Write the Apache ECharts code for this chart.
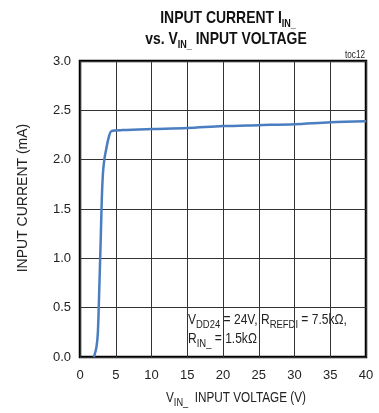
<!DOCTYPE html>
<html><head><meta charset="utf-8">
<script src="https://cdn.jsdelivr.net/npm/echarts@6/dist/echarts.min.js"></script>
<style>html,body{margin:0;padding:0;background:#fff}#c{width:379px;height:413px}</style>
</head><body><div id="c"></div>
<script>
const voltage = [1.95, 2.3, 2.5, 2.7, 2.9, 3.05, 3.2, 3.4, 3.7, 4.0, 4.4, 6, 10, 15, 20, 25, 30, 35, 40];
const current = [0, 0.1, 0.25, 0.7, 1.2, 1.6, 1.85, 2.0, 2.12, 2.22, 2.29, 2.30, 2.31, 2.32, 2.34, 2.35, 2.36, 2.38, 2.39];
const xTicks = [0, 5, 10, 15, 20, 25, 30, 35, 40];
const yTicks = [0, 0.5, 1, 1.5, 2, 2.5, 3];

const F = '"Liberation Sans",Arial,sans-serif';
const mctx = document.createElement('canvas').getContext('2d');
function measure(t, size, weight) { mctx.font = (weight || 'normal') + ' ' + size + 'px ' + F; return mctx.measureText(t).width; }
// parts: [text, isSub]
function composite(cx, my, parts, o) {
  const fm = o.fm, fs = o.fs, w = o.weight || 'normal', sc = o.scale || 0.82, color = o.color || '#222';
  let x = 0; const kids = [];
  parts.forEach(([t, s]) => {
    const size = s ? fs : fm;
    kids.push({type: 'text', x: x, y: s ? o.subDy : 0, style: {text: t, fontSize: size, fontFamily: F, fontWeight: w, fill: color, verticalAlign: 'middle', align: 'left'}});
    x += measure(t, size, w);
  });
  const W = x * sc;
  let gx = cx;
  if (o.align === 'center') gx = cx - W / 2; else if (o.align === 'right') gx = cx - W;
  return {type: 'group', x: gx, y: my, scaleX: sc, scaleY: 1, children: kids, z: 10};
}

const chart = echarts.init(document.getElementById('c'));
chart.setOption({
  animation: false,
  grid: {left: 80, top: 61, right: 13, bottom: 56, show: true, borderColor: '#000', borderWidth: 2.5, backgroundColor: 'transparent'},
  xAxis: {
    type: 'value', min: 0, max: 40, interval: 5,
    axisLine: {show: false}, axisTick: {show: false},
    splitLine: {show: true, lineStyle: {color: '#333', width: 1}},
    axisLabel: {fontFamily: F, fontSize: 13, color: '#222', margin: 12, formatter: v => xTicks.includes(v) ? String(v) : ''},
  },
  yAxis: {
    type: 'value', min: 0, max: 3, interval: 0.5,
    axisLine: {show: false}, axisTick: {show: false},
    splitLine: {show: true, lineStyle: {color: '#333', width: 1}},
    axisLabel: {fontFamily: F, fontSize: 13, color: '#222', margin: 9, formatter: v => yTicks.includes(v) ? v.toFixed(1) : ''},
    name: 'INPUT CURRENT (mA)', nameLocation: 'middle', nameGap: 50, nameRotate: 90,
    nameTextStyle: {fontFamily: F, fontSize: 14, color: '#222', padding: [0, 0, 0, 22]}
  },
  series: [{
    type: 'line', data: voltage.map((v, i) => [v, current[i]]), smooth: 0.3, showSymbol: false,
    lineStyle: {color: '#4a7ec0', width: 2.5}, z: 5
  }],
  graphic: [
    composite(228, 18, [['INPUT CURRENT I', 0], ['IN_', 1]], {fm: 17, fs: 11, subDy: 6, weight: 'bold', align: 'center', color: '#111'}),
    composite(226, 39, [['vs. V', 0], ['IN_', 1], [' INPUT VOLTAGE', 0]], {fm: 17, fs: 11, subDy: 6, weight: 'bold', align: 'center', color: '#111'}),
    composite(365, 55, [['toc12', 0]], {fm: 10, fs: 8, subDy: 0, align: 'right'}),
    composite(188, 320, [['V', 0], ['DD24', 1], [' = 24V, R', 0], ['REFDI', 1], [' = 7.5kΩ,', 0]], {fm: 14, fs: 11, subDy: 5, align: 'left', scale: 0.86}),
    composite(188, 339, [['R', 0], ['IN_', 1], [' = 1.5kΩ', 0]], {fm: 14, fs: 11, subDy: 5, align: 'left', scale: 0.86}),
    composite(236, 398, [['V', 0], ['IN_', 1], ['  INPUT VOLTAGE (V)', 0]], {fm: 14, fs: 11, subDy: 5, align: 'center', scale: 0.84})
  ]
});
</script></body></html>
